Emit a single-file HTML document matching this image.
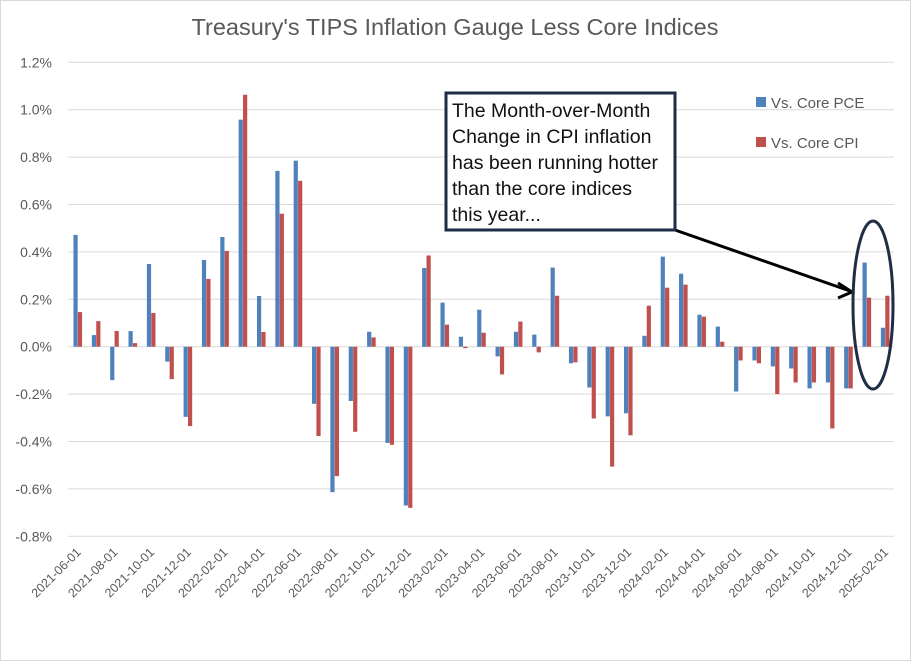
<!DOCTYPE html>
<html><head><meta charset="utf-8"><style>
body{margin:0;background:#fff;}
svg{display:block;font-family:"Liberation Sans",sans-serif;}
</style></head><body>
<svg id="chart" width="911" height="661" viewBox="0 0 911 661">
<rect x="0.5" y="0.5" width="910" height="660" fill="#fff" stroke="#d9d9d9"/>
<text x="455" y="35" text-anchor="middle" font-size="23.5" fill="#595959">Treasury's TIPS Inflation Gauge Less Core Indices</text>
<g id="grid"></g><g id="bars"></g><g id="xlabels"></g>
<g>
<rect x="756" y="97" width="10" height="10" fill="#4f81bd"/>
<text x="771" y="108" font-size="15" fill="#595959">Vs. Core PCE</text>
<rect x="756" y="137" width="10" height="10" fill="#c0504d"/>
<text x="771" y="148" font-size="15" fill="#595959">Vs. Core CPI</text>
</g>
<line x1="675" y1="230" x2="850" y2="291" stroke="#000" stroke-width="3"/>
<polyline points="838,283 852,292 838,298" fill="none" stroke="#000" stroke-width="3"/>
<rect x="446" y="93" width="229" height="137" fill="#fff" stroke="#1f2d45" stroke-width="3"/>
<g font-size="19.5" fill="#111">
<text x="452" y="117">The Month-over-Month</text>
<text x="452" y="143">Change in CPI inflation</text>
<text x="452" y="169">has been running hotter</text>
<text x="452" y="195">than the core indices</text>
<text x="452" y="221">this year...</text>
</g>
<ellipse cx="873" cy="305" rx="20" ry="84" fill="none" stroke="#1f2d45" stroke-width="3"/>
</svg>
<script>
const pce=[0.472,0.049,-0.141,0.066,0.349,-0.063,-0.296,0.366,0.463,0.958,0.214,0.742,0.785,-0.241,-0.614,-0.229,0.063,-0.406,-0.67,0.332,0.186,0.042,0.156,-0.041,0.063,0.051,0.334,-0.070,-0.172,-0.294,-0.281,0.046,0.380,0.308,0.135,0.085,-0.189,-0.058,-0.083,-0.092,-0.176,-0.151,-0.176,0.355,0.080];
const cpi=[0.146,0.108,0.066,0.015,0.142,-0.137,-0.335,0.286,0.404,1.063,0.062,0.561,0.700,-0.377,-0.546,-0.359,0.039,-0.414,-0.68,0.385,0.093,-0.006,0.059,-0.117,0.106,-0.024,0.215,-0.066,-0.303,-0.506,-0.374,0.173,0.249,0.262,0.127,0.021,-0.058,-0.070,-0.200,-0.151,-0.151,-0.345,-0.176,0.207,0.215];
const yTicks=[1.2,1.0,0.8,0.6,0.4,0.2,0.0,-0.2,-0.4,-0.6,-0.8];
const startYear=2021, startMonth=6;
const NS="http://www.w3.org/2000/svg";
const x0=68.5, band=18.35, bw=4.2;
const yZero=346.7, pxPerPct=237;
function y(v){return yZero-v*pxPerPct;}
function xc(i){return x0+band*(i+0.5);}
function mk(tag,attrs,parent){const e=document.createElementNS(NS,tag);for(const k in attrs)e.setAttribute(k,attrs[k]);parent.appendChild(e);return e;}
const grid=document.getElementById('grid');
yTicks.forEach(t=>{
  const l=mk('line',{x1:68,x2:894,y1:y(t),y2:y(t),stroke:'#d9d9d9','stroke-width':1},grid);
  
  
  const tx=mk('text',{x:52,y:y(t)+5,'text-anchor':'end','font-size':14,fill:'#595959'},grid);
  tx.textContent=t.toFixed(1)+'%';
  
  
});
const bars=document.getElementById('bars');
pce.forEach((v,i)=>{
  const r=mk('rect',{x:xc(i)-bw,y:Math.min(y(v),yZero),width:bw,height:Math.abs(y(v)-yZero),fill:'#4f81bd'},bars);
  
  
});
cpi.forEach((v,i)=>{
  const r=mk('rect',{x:xc(i)+0.2,y:Math.min(y(v),yZero),width:bw,height:Math.abs(y(v)-yZero),fill:'#c0504d'},bars);
  
  
});
const xl=document.getElementById('xlabels');
for(let i=0;i<pce.length;i+=2){
  let m=startMonth-1+i, yr=startYear+Math.floor(m/12); m=m%12+1;
  const lab=yr+'-'+String(m).padStart(2,'0')+'-01';
  const ax=xc(i)+4, ay=553;
  const t=mk('text',{x:ax,y:ay,'text-anchor':'end','font-size':12.5,fill:'#595959',transform:'rotate(-45 '+ax+' '+ay+')'},xl);
  t.textContent=lab;
  
  
}
</script>
</body></html>
